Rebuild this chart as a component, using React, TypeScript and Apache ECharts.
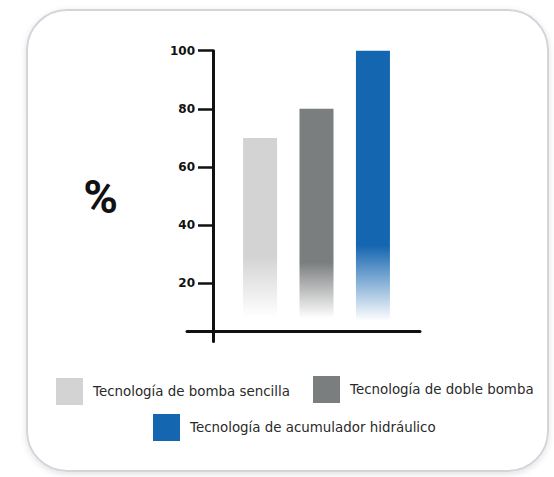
import React, { useEffect, useRef } from "react";
import * as echarts from "echarts";

// ---- data ----
const categories = [""];
const seriesNames = [
  "Tecnología de bomba sencilla",
  "Tecnología de doble bomba",
  "Tecnología de acumulador hidráulico",
];
const seriesValues = [70, 80, 100];
const yMin = 0;
const yMax = 100;
const yInterval = 20;
const yTickValues = [20, 40, 60, 80, 100];
const yAxisName = "%";

// ---- styles ----
const colors = ["#d3d3d3", "#7b7e7f", "#1566b0"];
const fadeStops = [
  [0.58, 0.88],
  [0.66, 0.9],
  [0.67, 0.93],
];
const legendPos = [
  { left: 56, top: 378 },
  { left: 313, top: 376 },
  { left: 153, top: 414 },
];

function rgba(hex: string, a: number) {
  const n = parseInt(hex.slice(1), 16);
  return `rgba(${(n >> 16) & 255},${(n >> 8) & 255},${n & 255},${a})`;
}

export default function App() {
  const ref = useRef<HTMLDivElement>(null);
  useEffect(() => {
    if (!ref.current) return;
    const chart = echarts.init(ref.current, undefined, { renderer: "svg" });
    const series = seriesNames.map((name, i) => ({
      name,
      type: "bar",
      xAxisIndex: 0,
      yAxisIndex: 0,
      barWidth: 34,
      barGap: "66%",
      data: [seriesValues[i]],
      itemStyle: {
        color: new echarts.graphic.LinearGradient(0, 0, 0, 1, [
          { offset: 0, color: colors[i] },
          { offset: fadeStops[i][0], color: colors[i] },
          { offset: fadeStops[i][1], color: rgba(colors[i], 0) },
          { offset: 1, color: rgba(colors[i], 0) },
        ]),
      },
    }));
    chart.setOption({
      animation: false,
      backgroundColor: "#ffffff",
      graphic: [
        {
          type: "rect",
          z: -1,
          shape: { x: 27, y: 10, width: 521, height: 461, r: 40 },
          style: {
            fill: "#ffffff",
            stroke: "#d2d6db",
            lineWidth: 2,
            shadowBlur: 6,
            shadowOffsetY: 2,
            shadowColor: "rgba(0,0,0,0.12)",
          },
        },
      ],
      legend: seriesNames.map((name, i) => ({
        data: [{ name, itemStyle: { color: colors[i] } }],
        left: legendPos[i].left,
        top: legendPos[i].top,
        padding: 0,
        itemWidth: 27,
        itemHeight: 27,
        icon: "rect",
        selectedMode: false,
        textStyle: {
          fontFamily: "DejaVu Sans",
          fontSize: 13.4,
          color: "#2a2a2a",
          padding: [0, 0, 0, 5],
        },
      })),
      grid: [
        { left: 213, right: 134, top: 50.7, bottom: 135.5 },
        { left: 187, right: 134, top: 50.7, bottom: 135.5 },
      ],
      xAxis: [
        {
          gridIndex: 0,
          type: "category",
          data: categories,
          axisLine: { show: false },
          axisTick: { show: false },
          axisLabel: { show: false },
        },
        {
          gridIndex: 1,
          type: "category",
          data: categories,
          offset: -10,
          axisLine: { onZero: false, lineStyle: { color: "#111", width: 3 } },
          axisTick: { show: false },
          axisLabel: { show: false },
        },
      ],
      yAxis: [
        {
          gridIndex: 0,
          type: "value",
          min: yMin,
          max: yMax,
          interval: yInterval,
          name: yAxisName,
          nameLocation: "middle",
          nameRotate: 0,
          nameGap: 95,
          nameTextStyle: {
            fontFamily: "Roboto",
            fontWeight: "bold",
            fontSize: 47,
            color: "#111",
          },
          axisLine: { show: true, lineStyle: { color: "#111", width: 3 } },
          axisTick: {
            show: true,
            length: 15,
            customValues: yTickValues,
            lineStyle: { color: "#111", width: 2.5 },
          },
          axisLabel: {
            margin: 18,
            customValues: yTickValues,
            fontFamily: "DejaVu Sans",
            fontWeight: "bold",
            fontSize: 12,
            color: "#111",
          },
          splitLine: { show: false },
        },
        { gridIndex: 1, type: "value", show: false },
      ],
      series,
    });
    return () => chart.dispose();
  }, []);
  return (
    <div
      ref={ref}
      style={{ position: "absolute", left: 0, top: 0, width: 554, height: 477 }}
    />
  );
}
